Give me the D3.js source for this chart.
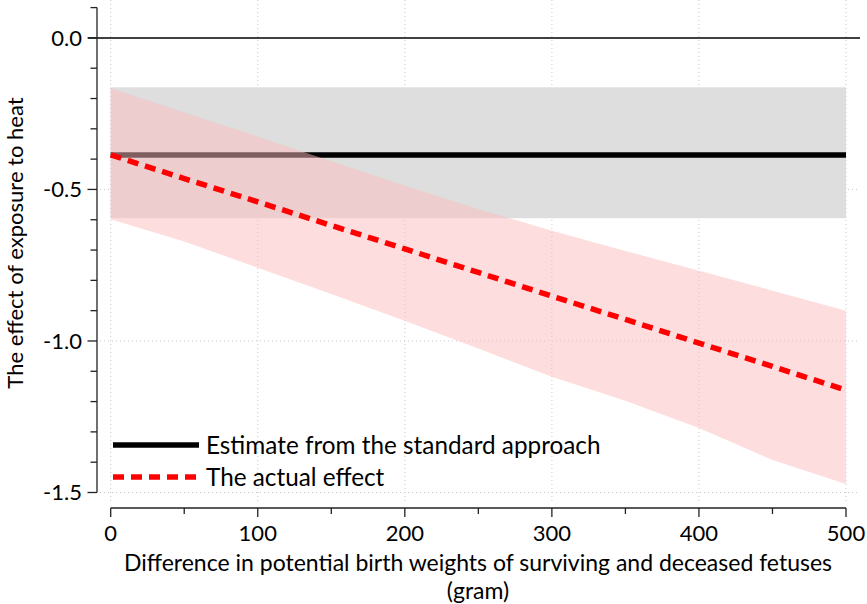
<!DOCTYPE html>
<html>
<head>
<meta charset="utf-8">
<script src="https://cdn.jsdelivr.net/npm/d3@7"></script>
<style>
  html, body { margin: 0; padding: 0; background: #fff; }
  svg { display: block; }
  text { font-family: Lato, "Open Sans", sans-serif; fill: #000; }
</style>
</head>
<body>
<svg id="chart" width="867" height="604"></svg>
<script>
// ---- data ----
const xValues      = [0, 50, 100, 150, 200, 250, 300, 350, 400, 450, 500];
const actualEffect = [-0.386, -0.464, -0.541, -0.619, -0.696, -0.774, -0.852, -0.929, -1.007, -1.084, -1.162];
const actualUpper  = [-0.166, -0.246, -0.326, -0.407, -0.488, -0.565, -0.636, -0.703, -0.768, -0.834, -0.900];
const actualLower  = [-0.598, -0.672, -0.758, -0.845, -0.933, -1.025, -1.118, -1.197, -1.287, -1.393, -1.472];
const standardEstimate = -0.386;
const standardUpper = -0.163;
const standardLower = -0.595;
const xTicks = [0, 100, 200, 300, 400, 500];
const xMinorTicks = [50, 150, 250, 350, 450];
const yTicks = [0.0, -0.5, -1.0, -1.5];
const yMinorTicks = [0.1, -0.1, -0.2, -0.3, -0.4, -0.6, -0.7, -0.8, -0.9, -1.1, -1.2, -1.3, -1.4];
const legendLabels = ["Estimate from the standard approach", "The actual effect"];
const xTitle = ["Difference in potential birth weights of surviving and deceased fetuses", "(gram)"];
const yTitle = "The effect of exposure to heat";

// ---- layout ----
const svg = d3.select("#chart");
const x = d3.scaleLinear().domain([0, 500]).range([110.7, 846]);
const y = d3.scaleLinear().domain([-1.5, 0.1]).range([492.5, 7.6]);

// gridlines (dotted)
const grid = svg.append("g").attr("stroke", "#c9c9c9").attr("stroke-width", 1).attr("stroke-dasharray", "1,3");
grid.selectAll("line.v").data(xTicks).join("line")
  .attr("x1", d => x(d)).attr("x2", d => x(d)).attr("y1", 0).attr("y2", 502);
grid.selectAll("line.h").data([-0.5, -1.0, -1.5]).join("line")
  .attr("x1", 100).attr("x2", 859).attr("y1", d => y(d)).attr("y2", d => y(d));

// standard band
svg.append("rect")
  .attr("x", x(0)).attr("width", x(500) - x(0))
  .attr("y", y(standardUpper)).attr("height", y(standardLower) - y(standardUpper))
  .attr("fill", "#dedede");

// zero line
svg.append("line").attr("x1", 88).attr("x2", 860)
  .attr("y1", y(0)).attr("y2", y(0)).attr("stroke", "#000").attr("stroke-width", 1.5);

// standard estimate line
svg.append("line").attr("x1", x(0)).attr("x2", x(500))
  .attr("y1", y(standardEstimate)).attr("y2", y(standardEstimate))
  .attr("stroke", "#000").attr("stroke-width", 5.5);

// actual band
const pts = xValues.map((v, i) => ({x: v, lo: actualLower[i], hi: actualUpper[i], m: actualEffect[i]}));
svg.append("path").datum(pts)
  .attr("d", d3.area().x(d => x(d.x)).y0(d => y(d.lo)).y1(d => y(d.hi)))
  .attr("fill", "rgb(251,188,188)").attr("fill-opacity", 0.5);

// actual effect line
svg.append("path").datum(pts)
  .attr("d", d3.line().x(d => x(d.x)).y(d => y(d.m)))
  .attr("fill", "none").attr("stroke", "#ff0000").attr("stroke-width", 5.5)
  .attr("stroke-dasharray", "11,7");

// y axis
const yAxisG = svg.append("g").attr("transform", "translate(97,0)");
yAxisG.append("line").attr("x1", 0).attr("x2", 0).attr("y1", y(0.1)).attr("y2", y(-1.5))
  .attr("stroke", "#222").attr("stroke-width", 1.3);
yAxisG.selectAll("line.minor").data(yMinorTicks).join("line")
  .attr("x1", -6.5).attr("x2", 0).attr("y1", d => y(d)).attr("y2", d => y(d))
  .attr("stroke", "#222").attr("stroke-width", 1.3);
yAxisG.selectAll("line.major").data(yTicks).join("line")
  .attr("x1", -9.5).attr("x2", 0).attr("y1", d => y(d)).attr("y2", d => y(d))
  .attr("stroke", "#222").attr("stroke-width", 1.3);
yAxisG.selectAll("text").data(yTicks).join("text")
  .attr("x", -15).attr("y", d => y(d)).attr("dy", "0.36em")
  .attr("text-anchor", "end").attr("font-size", 22)
  .text(d => d3.format(".1f")(d).replace("−", "-"));

// x axis
const xAxisG = svg.append("g").attr("transform", "translate(0,508)");
xAxisG.append("line").attr("x1", x(0)).attr("x2", x(500)).attr("y1", 0).attr("y2", 0)
  .attr("stroke", "#222").attr("stroke-width", 1.3);
xAxisG.selectAll("line.major").data(xTicks).join("line")
  .attr("x1", d => x(d)).attr("x2", d => x(d)).attr("y1", 0).attr("y2", 9)
  .attr("stroke", "#222").attr("stroke-width", 1.3);
xAxisG.selectAll("line.minor").data(xMinorTicks).join("line")
  .attr("x1", d => x(d)).attr("x2", d => x(d)).attr("y1", 0).attr("y2", 6)
  .attr("stroke", "#222").attr("stroke-width", 1.3);
xAxisG.selectAll("text").data(xTicks).join("text")
  .attr("x", d => x(d)).attr("y", 33).attr("text-anchor", "middle").attr("font-size", 22)
  .text(d => d);

// axis titles
svg.append("text").attr("x", 478).attr("y", 571).attr("text-anchor", "middle")
  .attr("font-size", 23).text(xTitle[0]);
svg.append("text").attr("x", 478).attr("y", 599).attr("text-anchor", "middle")
  .attr("font-size", 23).text(xTitle[1]);
svg.append("text").attr("transform", "translate(23,243) rotate(-90)")
  .attr("text-anchor", "middle").attr("font-size", 22).text(yTitle);

// legend
const leg = svg.append("g");
const legY = [445, 477];
leg.append("line").attr("x1", 113).attr("x2", 199).attr("y1", legY[0]).attr("y2", legY[0])
  .attr("stroke", "#000").attr("stroke-width", 5.5);
leg.append("line").attr("x1", 113).attr("x2", 199).attr("y1", legY[1]).attr("y2", legY[1])
  .attr("stroke", "#ff0000").attr("stroke-width", 5.5).attr("stroke-dasharray", "11,7");
leg.selectAll("text").data(legendLabels).join("text")
  .attr("x", 206).attr("y", (d, i) => legY[i]).attr("dy", "0.36em")
  .attr("font-size", 24.3).text(d => d);
</script>
</body>
</html>
